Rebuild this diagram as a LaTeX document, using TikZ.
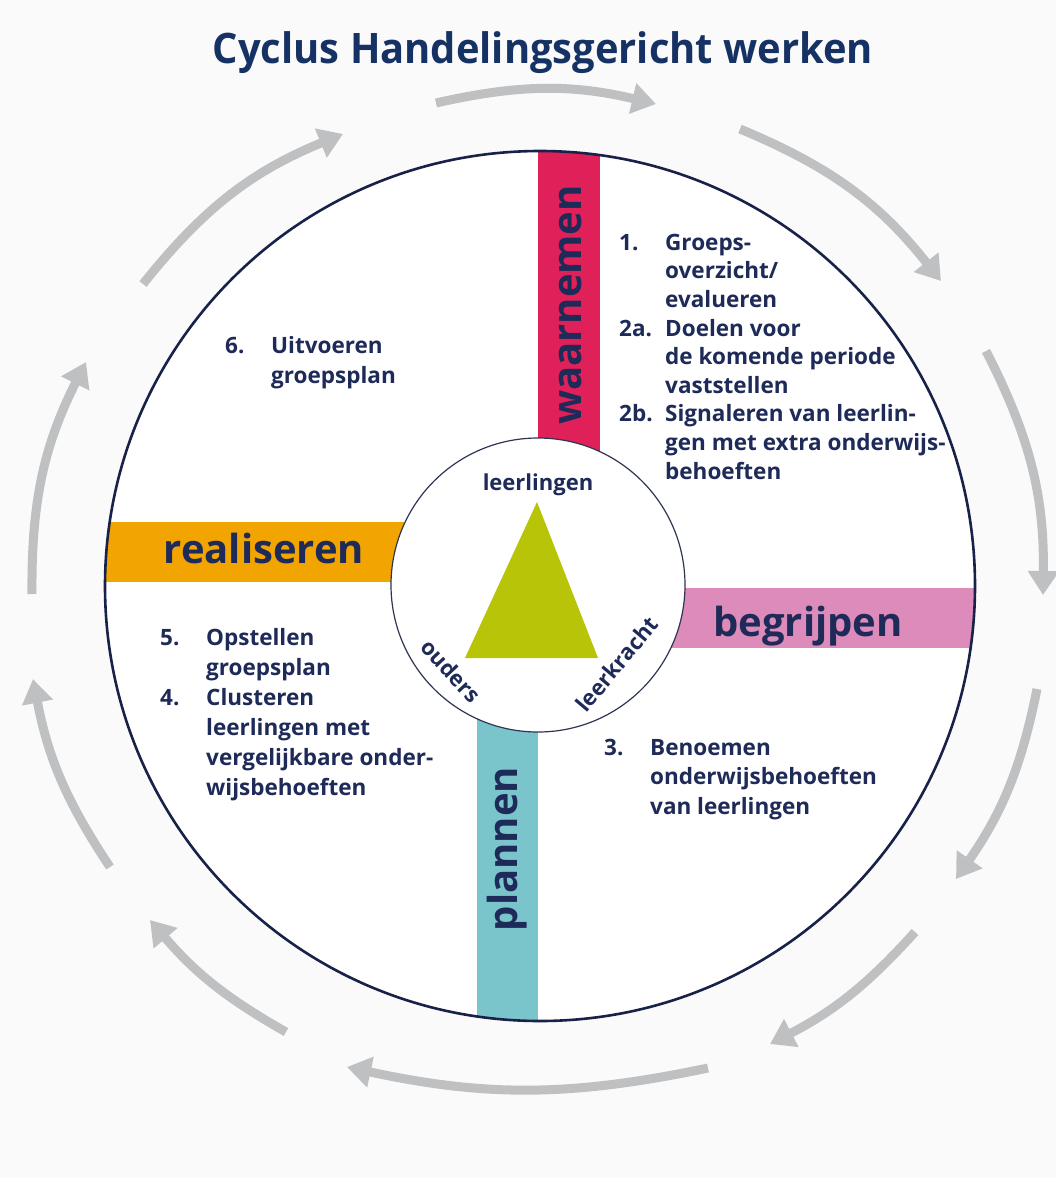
\documentclass[tikz,border=0pt]{standalone}
\usepackage{fontspec}
\setmainfont{Open Sans}
\usetikzlibrary{arrows.meta}
\definecolor{navy}{RGB}{30,42,88}
\definecolor{titleblue}{RGB}{22,50,100}
\definecolor{ringline}{RGB}{24,34,72}
\definecolor{barred}{RGB}{224,32,88}
\definecolor{barpink}{RGB}{221,139,186}
\definecolor{barteal}{RGB}{122,196,204}
\definecolor{barorange}{RGB}{242,164,0}
\definecolor{trigreen}{RGB}{184,196,8}
\definecolor{arrowgray}{RGB}{190,192,194}
\definecolor{bg}{RGB}{250,250,250}
\newcommand\stepnum[1]{\makebox[46pt][l]{#1}}
\newcommand\stepind{\hspace*{46pt}}
\begin{document}
\begin{tikzpicture}[x=1pt,y=1pt,
  cyc/.style={draw=arrowgray, line width=9pt, -{Triangle[width=30pt,length=24pt]}},
  barlabel/.style={font=\fontsize{40}{44}\selectfont\bfseries, text=navy, inner sep=0pt},
  steptext/.style={font=\fontsize{22.5}{29.5}\selectfont\bfseries, text=navy, align=left, inner sep=0pt, anchor=base west},
  inlabel/.style={font=\fontsize{22}{26}\selectfont\bfseries, text=navy, inner sep=0pt}
]
\fill[bg] (0,0) rectangle (1056,-1178);
\useasboundingbox (0,0) rectangle (1056,-1178);

% title
\node[font=\fontsize{42}{48}\selectfont\bfseries, text=titleblue, inner sep=0pt, anchor=base, xscale=0.95] (title) at (543,-63) {Cyclus Handelingsgericht werken};

% main disc
\node[circle, fill=white, minimum size=870pt, inner sep=0pt] (outer) at (540,-586) {};
\begin{scope}
  \clip (540,-586) circle[radius=435pt];
  \fill[barred]    (538,-100) rectangle (600,-586);
  \fill[barteal]   (477,-586) rectangle (538,-1100);
  \fill[barorange] (60,-522)  rectangle (540,-582);
  \fill[barpink]   (540,-588) rectangle (1040,-648);
\end{scope}
\draw[ringline, line width=2.6pt] (outer.center) circle[radius=435pt];

% inner disc
\node[circle, draw=ringline!80!gray, line width=1.2pt, fill=white, minimum size=294pt, inner sep=0pt] (inner) at (538,-585) {};
\fill[trigreen] (537,-502) -- (465,-658) -- (598,-658) -- cycle;
\node[inlabel] (lrl) at (538,-485) {leerlingen};
\node[inlabel, rotate=-47] (oud) at (451,-671) {ouders};
\node[inlabel, rotate=50] (lkr) at (617,-664) {leerkracht};

% bar labels
\node[barlabel, rotate=90, anchor=base] (waar) at (581,-305) {waarnemen};
\node[barlabel, rotate=90, anchor=base] (plan) at (517,-849) {plannen};
\node[barlabel, anchor=base] (real) at (264,-563) {realiseren};
\node[barlabel, anchor=base] (begr) at (808,-636) {begrijpen};

% step texts (anchored at the baseline of their last line)
\node[steptext, font=\fontsize{22.5}{28.6}\selectfont\bfseries] (s1) at (619,-479) {\stepnum{1.}Groeps-\\ \stepind overzicht/\\ \stepind evalueren\\ \stepnum{2a.}Doelen voor\\ \stepind de komende periode\\ \stepind vaststellen\\ \stepnum{2b.}Signaleren van leerlin-\\ \stepind gen met extra onderwijs-\\ \stepind behoeften};
\node[steptext] (s3) at (604,-814) {\stepnum{3.}Benoemen\\ \stepind onderwijsbehoeften\\ \stepind van leerlingen};
\node[steptext, font=\fontsize{22.5}{30}\selectfont\bfseries] (s5) at (160,-795) {\stepnum{5.}Opstellen\\ \stepind groepsplan\\ \stepnum{4.}Clusteren\\ \stepind leerlingen met\\ \stepind vergelijkbare onder-\\ \stepind wijsbehoeften};
\node[steptext] (s6) at (225,-383) {\stepnum{6.}Uitvoeren\\ \stepind groepsplan};

% cycle arrows
\coordinate (a1s) at (436,-103);  \coordinate (a1e) at (656,-104);
\coordinate (a2s) at (740,-129);  \coordinate (a2e) at (941,-281);
\coordinate (a3s) at (986,-351);  \coordinate (a3e) at (1043,-595);
\coordinate (a4s) at (1037,-689); \coordinate (a4e) at (956,-879);
\coordinate (a5s) at (915,-932);  \coordinate (a5e) at (770,-1044);
\coordinate (a6s) at (708,-1068); \coordinate (a6e) at (347,-1067);
\coordinate (a7s) at (286,-1032); \coordinate (a7e) at (150,-920);
\coordinate (a8s) at (110,-867);  \coordinate (a8e) at (33,-679);
\coordinate (a9s) at (32,-594);   \coordinate (a9e) at (86,-362);
\coordinate (a10s) at (143,-284); \coordinate (a10e) at (343,-134);
\draw[cyc] (a1s) to[bend left=13] (a1e);
\draw[cyc] (a2s) to[bend left=14.5] (a2e);
\draw[cyc] (a3s) to[bend left=14] (a3e);
\draw[cyc] (a4s) to[bend left=11.7] (a4e);
\draw[cyc] (a5s) to[bend left=10.3] (a5e);
\draw[cyc] (a6s) to[bend left=12] (a6e);
\draw[cyc] (a7s) to[bend left=10] (a7e);
\draw[cyc] (a8s) to[bend left=11.4] (a8e);
\draw[cyc] (a9s) to[bend left=13.6] (a9e);
\draw[cyc] (a10s) to[bend left=14.6] (a10e);
\end{tikzpicture}
\end{document}
